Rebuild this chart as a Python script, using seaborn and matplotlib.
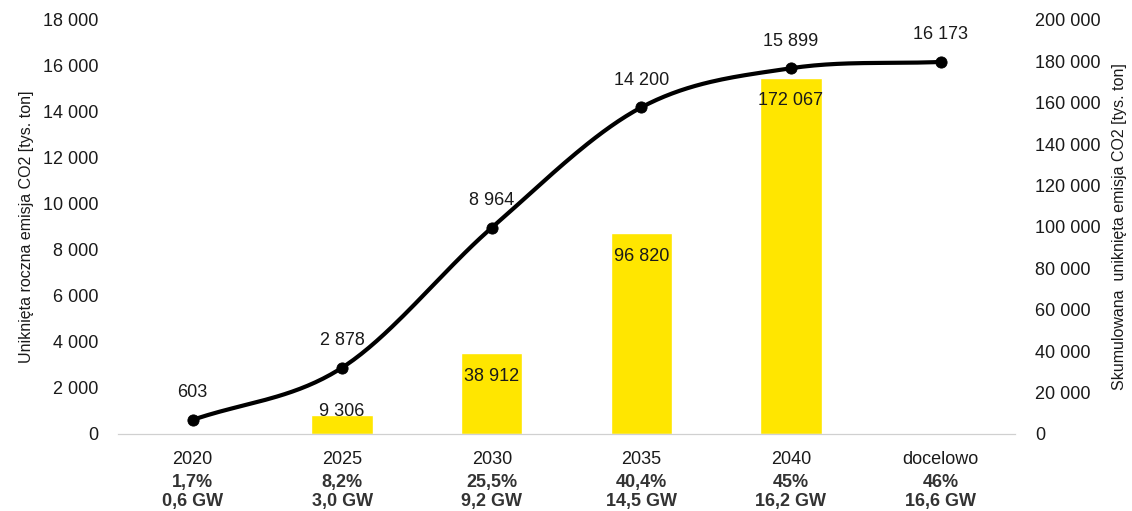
import numpy as np
import pandas as pd
import seaborn as sns
from matplotlib import pyplot as plt
from matplotlib.ticker import FuncFormatter, FixedLocator

# Dane
categories = ['2020', '2025', '2030', '2035', '2040', 'docelowo']
share_pct = ['1,7%', '8,2%', '25,5%', '40,4%', '45%', '46%']
capacity = ['0,6 GW', '3,0 GW', '9,2 GW', '14,5 GW', '16,2 GW', '16,6 GW']
annual_avoided = [603, 2878, 8964, 14200, 15899, 16173]
cumulative_avoided = [0, 9306, 38912, 96820, 172067, 0]

COLOR = {'bar': '#FFE600', 'line': '#000000', 'text': '#1A1A1A', 'axis': '#D0D0D0'}
FONT = ['Liberation Sans', 'DejaVu Sans']
FS = 13


def fmt_pl(v, pos=None):
    return f'{int(round(v)):,}'.replace(',', ' ')


def catmull_rom(x, y, n=40):
    # wygładzenie linii w stylu Excela
    x = np.asarray(x, float)
    y = np.asarray(y, float)
    px = np.concatenate([[2 * x[0] - x[1]], x, [2 * x[-1] - x[-2]]])
    py = np.concatenate([[2 * y[0] - y[1]], y, [2 * y[-1] - y[-2]]])
    xs, ys = [], []
    t = np.linspace(0, 1, n)
    for i in range(1, len(px) - 2):
        for arr, out in ((px, xs), (py, ys)):
            p0, p1, p2, p3 = arr[i - 1], arr[i], arr[i + 1], arr[i + 2]
            out.extend(0.5 * ((2 * p1) + (-p0 + p2) * t
                              + (2 * p0 - 5 * p1 + 4 * p2 - p3) * t ** 2
                              + (-p0 + 3 * p1 - 3 * p2 + p3) * t ** 3))
    return np.array(xs), np.array(ys)


sns.set_style('white')
plt.rcParams['font.family'] = FONT

df = pd.DataFrame({'cat': categories, 'annual': annual_avoided, 'cum': cumulative_avoided})
xpos = np.arange(len(categories))

fig, ax = plt.subplots(figsize=(11.32, 5.11), dpi=100)
plt.subplots_adjust(left=0.104, right=0.897, bottom=0.151, top=0.961)

# Słupki - skumulowana emisja (prawa oś)
sns.barplot(data=df, x='cat', y='cum', color=COLOR['bar'], width=0.41,
            saturation=1, ax=ax)
ax.set_ylim(0, 200000)
ax.set_xlim(-0.5, len(categories) - 0.5)
ax.set_xlabel('')

for i, v in enumerate(cumulative_avoided):
    if v > 0:
        off = -23 if v > 20000 else 3
        ax.annotate(fmt_pl(v), (i, v), xytext=(0, off), textcoords='offset pixels',
                    ha='center', va='center', fontsize=FS, color=COLOR['text'])

# Linia - roczna emisja (lewa oś)
ax2 = ax.twinx()
sx, sy = catmull_rom(xpos, annual_avoided)
ax2.plot(sx, sy, color=COLOR['line'], lw=3, zorder=3)
sns.scatterplot(x=xpos, y=annual_avoided, color=COLOR['line'], s=65,
                edgecolor=COLOR['line'], zorder=4, ax=ax2)
ax2.set_ylim(0, 18000)

for i, v in enumerate(annual_avoided):
    ax2.annotate(fmt_pl(v), (i, v), xytext=(0, 27), textcoords='offset pixels',
                 ha='center', va='center', fontsize=FS, color=COLOR['text'])

# Osie Y: słupki po prawej, linia po lewej
ax.yaxis.tick_right()
ax.yaxis.set_label_position('right')
ax.yaxis.set_major_locator(FixedLocator(np.arange(0, 200001, 20000)))
ax.yaxis.set_major_formatter(FuncFormatter(fmt_pl))
ax.set_ylabel('Skumulowana  uniknięta emisja CO2 [tys. ton]', fontsize=11.5,
              color=COLOR['text'], labelpad=8)

ax2.yaxis.tick_left()
ax2.yaxis.set_label_position('left')
ax2.yaxis.set_major_locator(FixedLocator(np.arange(0, 18001, 2000)))
ax2.yaxis.set_major_formatter(FuncFormatter(fmt_pl))
ax2.set_ylabel('Uniknięta roczna emisja CO2 [tys. ton]', fontsize=11.5,
               color=COLOR['text'], labelpad=6)

for a in (ax, ax2):
    for s in ('left', 'right', 'top'):
        a.spines[s].set_visible(False)
    a.spines['bottom'].set_color(COLOR['axis'])
    a.tick_params(axis='y', length=0, labelsize=FS, labelcolor=COLOR['text'], pad=14)

# Etykiety osi X: rok + udział + moc
ax.set_xticks(xpos)
ax.set_xticklabels(categories, fontsize=FS, color=COLOR['text'])
ax.tick_params(axis='x', length=0, pad=12)
ax.set_xticks(np.arange(-0.5, len(categories), 1), minor=True)
ax.tick_params(axis='x', which='minor', length=6, color=COLOR['axis'], direction='out')
ax2.tick_params(axis='x', length=0)

for i in range(len(categories)):
    ax.annotate(f'{share_pct[i]}\n{capacity[i]}', (i, 0), xycoords=('data', 'axes fraction'),
                xytext=(0, -58), textcoords='offset pixels', ha='center', va='center',
                fontsize=FS, fontweight='bold', color='#333333', linespacing=1.12,
                annotation_clip=False, family=['Liberation Sans Narrow', 'Liberation Sans', 'DejaVu Sans'])

fig.savefig('out.png', dpi=100)
